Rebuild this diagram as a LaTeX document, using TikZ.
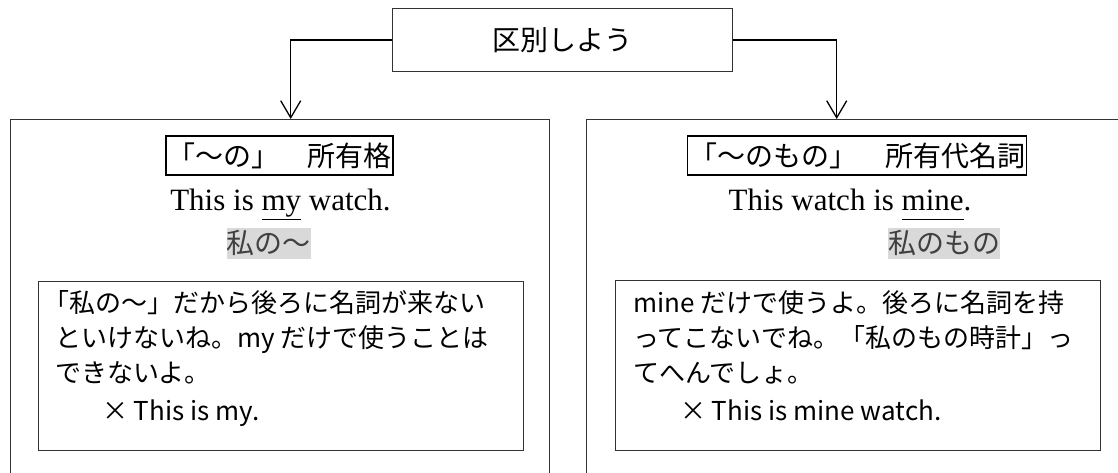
\documentclass[tikz,border=0pt]{standalone}
\usepackage{fontspec}
\newfontfamily\jp{Noto Sans CJK JP}
\newfontfamily\enserif{Liberation Serif}
\usetikzlibrary{arrows.meta}
\begin{document}
\begin{tikzpicture}[x=1pt,y=-1pt,
  frame/.style={draw=black!80, line width=1pt, inner sep=0pt},
  hdr/.style={draw=black, line width=1.8pt, inner sep=1.5pt, minimum height=39pt, font=\jp\fontsize{28}{30}\selectfont},
  eng/.style={inner sep=0pt, anchor=base, font=\enserif\fontsize{31}{34}\selectfont},
  hl/.style={fill=black!15, text=black!75, inner sep=0pt, minimum height=31pt, font=\jp\fontsize{28}{30}\selectfont},
  note/.style={inner sep=0pt, anchor=north west, align=left, font=\jp\fontsize{26}{35}\selectfont},
  arr/.style={line width=1.3pt, -{Straight Barb[length=17pt,width=20pt]}}
]
\useasboundingbox (0,0) rectangle (1118,473);
\clip (0,0) rectangle (1118,473);
\node[frame, minimum width=340pt, minimum height=63pt, font=\jp\fontsize{28}{30}\selectfont] (top) at (562.7,40) {区別しよう};
\node[frame, minimum width=539.6pt, minimum height=380pt, anchor=north west] (lbox) at (9.7,119) {};
\node[frame, minimum width=542pt, minimum height=380pt, anchor=north west] (rbox) at (586,119) {};
\coordinate (la) at (290.7,119);
\coordinate (ra) at (836.7,119);
\draw[arr] (top.west) -| (la);
\draw[arr] (top.east) -| (ra);
\node[hdr] (lh) at (279.5,155.5) {「〜の」　所有格};
\node[hdr] (rh) at (857,155.5) {「〜のもの」　所有代名詞};
\node[eng] (le) at (280.5,211) {This is \underline{my} watch.};
\node[eng] (re) at (850,211) {This watch is \underline{mine\vphantom{y}}.};
\node[hl] (lg) at (268.5,243) {私の〜};
\node[hl] (rg) at (944,243) {私のもの};
\node[frame, minimum width=485pt, minimum height=168.5pt, anchor=north west] (ln) at (38.3,281) {};
\node[frame, minimum width=485pt, minimum height=170pt, anchor=north west] (rn) at (615,280) {};
\node[note] (lt) at (55,290) {\hspace*{-0.45em}「私の〜」だから後ろに名詞が来ない\\といけないね。my だけで使うことは\\できないよ。\\[3pt]\hspace*{1.8em}× This is my.};
\node[note] (rt) at (633,290) {mine だけで使うよ。後ろに名詞を持\\ってこないでね。「私のもの時計」っ\\てへんでしょ。\\[3pt]\hspace*{1.8em}× This is mine watch.};
\end{tikzpicture}
\end{document}
